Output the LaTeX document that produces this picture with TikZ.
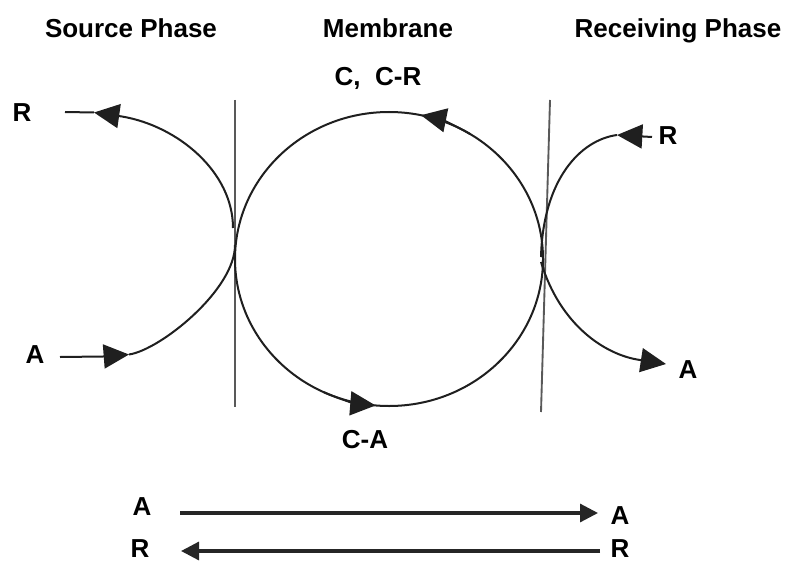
\documentclass[tikz,border=0pt]{standalone}
\usepackage{fontspec}
\setmainfont{Liberation Sans}
\usetikzlibrary{arrows.meta}
\begin{document}
\begin{tikzpicture}[x=0.75pt,y=-0.75pt,
  lbl/.style={font=\bfseries\fontsize{19.5}{22}\selectfont, inner sep=0pt, anchor=base},
  curve/.style={draw=black!88, line width=1.5pt},
  memb/.style={draw=black!65, line width=1.4pt},
  bigtip/.style={curve, -{Triangle[length=19pt,width=18pt]}},
  flatarrow/.style={draw=black!85, line width=2.4pt, -{Triangle[length=13.5pt,width=13.5pt]}}
]
\path[use as bounding box] (0,0) rectangle (787,563);

% titles
\node[lbl] (tsrc) at (131,38) {Source Phase};
\node[lbl] (tmem) at (388,38) {Membrane};
\node[lbl] (trec) at (678,38) {Receiving Phase};

% labels
\node[lbl] (lcr) at (378,86) {C,\ \ C-R};
\node[lbl] (lca) at (365,448) {C-A};
\node[lbl] (lR) at (22,122) {R};
\node[lbl] (lA) at (35,363) {A};
\node[lbl] (rR) at (668,144) {R};
\node[lbl] (rA) at (688,378) {A};
\node[lbl] (bAl) at (142,515) {A};
\node[lbl] (bRl) at (140,557) {R};
\node[lbl] (bAr) at (620,524) {A};
\node[lbl] (bRr) at (620,557.5) {R};

% membrane walls
\coordinate (m1t) at (235,100);
\coordinate (m1b) at (235,407);
\coordinate (m2t) at (550,100);
\coordinate (m2b) at (541,412);
\draw[memb] (m1t) -- (m1b);
\draw[memb] (m2t) -- (m2b);

% carrier circle
\coordinate (cc) at (389,259);
\draw[curve] (cc) ellipse [x radius=154, y radius=147];
\draw[bigtip] (cc) ++(-58:154 and 147) arc[start angle=-58, end angle=-78, x radius=154, y radius=147];
\draw[bigtip] (cc) ++(115:154 and 147) arc[start angle=115, end angle=95, x radius=154, y radius=147];

% source phase curves
\coordinate (sRs) at (233,228);
\coordinate (sRm) at (122,116.5);
\coordinate (sRt) at (94,112.5);
\coordinate (sRe) at (65,112);
\draw[curve] (sRs) .. controls (233,172) and (178,126) .. (sRm);
\draw[curve] (sRt) -- (sRe);
\draw[bigtip] (sRm) -- (sRt);

\coordinate (sAs) at (60,357);
\coordinate (sAm) at (103,356.5);
\coordinate (sAt) at (129,354.5);
\coordinate (sAe) at (235,245);
\draw[curve] (sAs) -- (sAm);
\draw[curve] (sAt) .. controls (160,350) and (235,290) .. (sAe);
\draw[bigtip] (sAm) -- (sAt);

% receiving phase curves
\coordinate (rRs) at (541,257);
\coordinate (rRm) at (617,135);
\coordinate (rRe) at (652,137);
\draw[curve] (rRs) .. controls (543,180) and (580,140) .. (rRm);
\draw[bigtip] (rRe) -- (rRm);

\coordinate (rAs) at (541,262);
\coordinate (rAm) at (640,360);
\coordinate (rAe) at (666,364);
\draw[curve] (rAs) .. controls (560,325) and (605,355) .. (rAm);
\draw[bigtip] (rAm) -- (rAe);

% overall transport
\coordinate (t1s) at (180,513);
\coordinate (t1e) at (598,513);
\coordinate (t2s) at (600,551);
\coordinate (t2e) at (181,551);
\draw[flatarrow] (t1s) -- (t1e);
\draw[flatarrow] (t2s) -- (t2e);
\end{tikzpicture}
\end{document}
